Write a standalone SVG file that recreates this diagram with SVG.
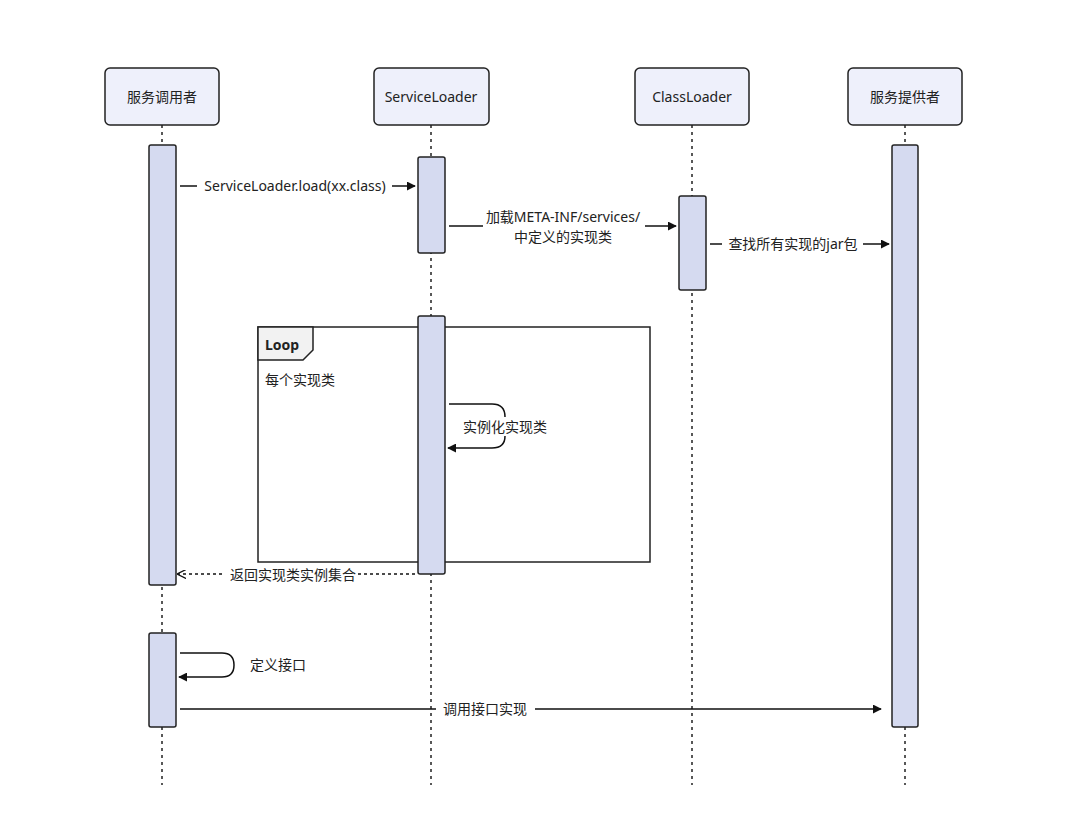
<svg xmlns="http://www.w3.org/2000/svg" width="1080" height="838" viewBox="0 0 1080 838">
<style>
text{font-family:"Noto Sans","Noto Sans CJK SC",sans-serif;font-size:14px;fill:#222}
.head{fill:#eef0fb;stroke:#222;stroke-width:1.5}
.act{fill:#d5daf0;stroke:#222;stroke-width:1.5}
.life{stroke:#222;stroke-width:1.5;stroke-dasharray:3 4;fill:none}
.msg{stroke:#111;stroke-width:1.5;fill:none}
</style>
<defs>
<marker id="a" viewBox="0 0 10 10" refX="9" refY="5" markerWidth="9" markerHeight="9" markerUnits="userSpaceOnUse" orient="auto"><path d="M0,0L10,5L0,10z" fill="#111"/></marker>
<marker id="o" viewBox="0 0 10 10" refX="9" refY="5" markerWidth="9" markerHeight="9" markerUnits="userSpaceOnUse" orient="auto"><path d="M0,0L10,5L0,10" fill="none" stroke="#111" stroke-width="1.5"/></marker>
</defs>
<rect width="1080" height="838" fill="#fff"/>
<g id="lifelines">
<line class="life" x1="162" y1="125" x2="162" y2="785"/>
<line class="life" x1="431" y1="125" x2="431" y2="785"/>
<line class="life" x1="692" y1="125" x2="692" y2="785"/>
<line class="life" x1="905" y1="125" x2="905" y2="785"/>
</g>
<g id="caller"><rect class="head" x="105" y="68" width="114" height="57" rx="5"/><text x="162" y="102" text-anchor="middle">服务调用者</text></g>
<g id="serviceloader"><rect class="head" x="374" y="68" width="115" height="57" rx="5"/><text x="431" y="102" text-anchor="middle">ServiceLoader</text></g>
<g id="classloader"><rect class="head" x="635" y="68" width="114" height="57" rx="5"/><text x="692" y="102" text-anchor="middle">ClassLoader</text></g>
<g id="provider"><rect class="head" x="848" y="68" width="114" height="57" rx="5"/><text x="905" y="102" text-anchor="middle">服务提供者</text></g>
<g id="loop">
<rect x="258" y="327" width="392" height="235" fill="none" stroke="#222" stroke-width="1.5"/>
<path d="M258,327H313V350L303,360H258Z" fill="#f2f2f2" stroke="#222" stroke-width="1.5"/>
<text x="265" y="350" font-weight="bold">Loop</text>
<text x="265" y="385">每个实现类</text>
</g>
<g id="activations">
<rect class="act" x="149" y="145" width="27" height="440" rx="2"/>
<rect class="act" x="149" y="633" width="27" height="94" rx="2"/>
<rect class="act" x="418" y="157" width="27" height="96" rx="2"/>
<rect class="act" x="418" y="316" width="27" height="258" rx="2"/>
<rect class="act" x="679" y="196" width="27" height="94" rx="2"/>
<rect class="act" x="892" y="145" width="26" height="582" rx="2"/>
</g>
<g id="connectors">
<line class="msg" x1="180" y1="186" x2="197" y2="186"/>
<line class="msg" x1="392" y1="186" x2="415" y2="186" marker-end="url(#a)"/>
<text x="295" y="191" text-anchor="middle">ServiceLoader.load(xx.class)</text>
<line class="msg" x1="449" y1="226" x2="483" y2="226"/>
<line class="msg" x1="645" y1="226" x2="676" y2="226" marker-end="url(#a)"/>
<text x="563" y="222" text-anchor="middle">加载META-INF/services/</text>
<text x="563" y="242" text-anchor="middle">中定义的实现类</text>
<line class="msg" x1="710" y1="244" x2="722" y2="244"/>
<line class="msg" x1="863" y1="244" x2="889" y2="244" marker-end="url(#a)"/>
<text x="793" y="249" text-anchor="middle">查找所有实现的jar包</text>
<path class="msg" d="M449,404H492Q505,404 505,417M505,436Q505,448 492,448H448" marker-end="url(#a)"/>
<text x="463" y="432">实例化实现类</text>
<path class="msg" d="M415,574H357M222,574H178" stroke-dasharray="3 3" marker-end="url(#o)"/>
<text x="293" y="580" text-anchor="middle">返回实现类实例集合</text>
<path class="msg" d="M180,653H222Q234,653 234,665Q234,677 222,677H179" marker-end="url(#a)"/>
<text x="250" y="670">定义接口</text>
<path class="msg" d="M180,709H436M535,709H881" marker-end="url(#a)"/>
<text x="485" y="714" text-anchor="middle">调用接口实现</text>
</g>
</svg>
